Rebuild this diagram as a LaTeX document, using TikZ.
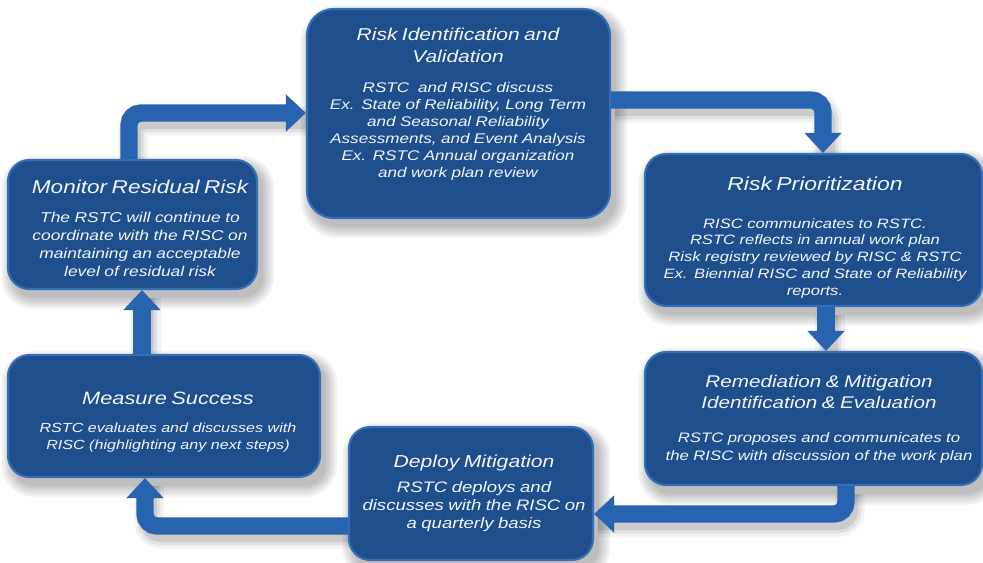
\documentclass[tikz,border=0pt]{standalone}
\usepackage{fontspec}
\setmainfont{Liberation Sans}[FakeStretch=1.22]
\usetikzlibrary{arrows.meta}

\definecolor{boxblue}{RGB}{31,78,141}
\definecolor{boxedge}{RGB}{52,110,182}
\definecolor{flowblue}{RGB}{40,99,176}
\definecolor{textwhite}{RGB}{242,246,251}

\pgfdeclarelayer{paper}
\pgfdeclarelayer{back}
\pgfsetlayers{paper,back,main}

% title size, title skip, body size, body skip, gap, title, body
\newcommand\stagetext[7]{%
  {\fontsize{#1}{#2}\selectfont #6\par}\vspace{#5}%
  {\fontsize{#3}{#4}\selectfont #7\par}}

% a connector with a soft grey shadow underneath
\newcommand\flowpath[1]{%
  \foreach \w/\o in {22/0.05,17/0.07,12/0.09}{%
    \draw[draw=black, line width=\w pt, opacity=\o, rounded corners=9pt,
          transform canvas={xshift=3pt,yshift=-6pt}] #1;}
  \draw[flow] #1;}

% soft drop shadow below a stage: node name, corner radius (pt)
\newcommand\stageshadow[2]{%
  \foreach \g in {0,2,4,6,8}{%
    \pgfmathsetmacro\rr{#2+\g}%
    \fill[black, opacity=0.055, rounded corners=\rr pt]
      ([xshift=4pt-\g pt, yshift=-6pt+\g pt]#1.north west) rectangle
      ([xshift=4pt+\g pt, yshift=-6pt-\g pt]#1.south east);}}

\tikzset{
  stage/.style={rectangle, rounded corners=16pt, fill=boxblue, draw=boxedge,
    line width=1.6pt, inner sep=0pt},
  stagetxt/.style={anchor=north, inner sep=0pt, text width=300pt,
    align=center, font=\itshape, text=textwhite},
  flow/.style={draw=flowblue, line width=13pt, rounded corners=9pt,
    -{Triangle[width=27pt,length=15pt]}}
}

\begin{document}
\begin{tikzpicture}[x=0.75pt,y=-0.75pt]
\begin{pgfonlayer}{paper}
  \fill[white] (0,0) rectangle (983,563);
\end{pgfonlayer}
\useasboundingbox (0,0) rectangle (983,563);

% stages
\node[stage, rounded corners=20pt, minimum width=227.25pt, minimum height=156.75pt] (rid) at (458.5,113.5) {};
\node[stage, minimum width=252.75pt, minimum height=114pt] (rpr) at (813.5,230) {};
\node[stage, minimum width=252.75pt, minimum height=99.75pt] (rem) at (813.5,418.5) {};
\node[stage, minimum width=183pt, minimum height=99.75pt] (dep) at (471,493.5) {};
\node[stage, minimum width=234pt, minimum height=91.5pt] (mea) at (164,416) {};
\node[stage, minimum width=186.75pt, minimum height=96.75pt] (mon) at (132.5,224.5) {};

% stage texts
\node[stagetxt] (rid-t) at (458,27.4) {\stagetext{12.9}{16.5}{10.5}{12.75}{9.75pt}%
  {Risk Identification and\\Validation}%
  {RSTC\ \ and RISC discuss\\Ex. State of Reliability, Long Term\\and Seasonal Reliability\\Assessments, and Event Analysis\\Ex. RSTC Annual organization\\and work plan review}};
\node[stagetxt] (rpr-t) at (815,176.3) {\stagetext{14.1}{16}{10.2}{12.6}{15.9pt}%
  {Risk Prioritization}%
  {RISC communicates to RSTC.\\RSTC reflects in annual work plan\\Risk registry reviewed by RISC \& RSTC\\Ex. Biennial RISC and State of Reliability\\reports.}};
\node[stagetxt] (rem-t) at (819,374.6) {\stagetext{12.7}{15.75}{10.3}{13.5}{12pt}%
  {Remediation \& Mitigation\\Identification \& Evaluation}%
  {RSTC proposes and communicates to\\the RISC with discussion of the work plan}};
\node[stagetxt] (dep-t) at (474,454.4) {\stagetext{13}{16}{11.4}{13.5}{5.25pt}%
  {Deploy Mitigation}%
  {RSTC deploys and\\discusses with the RISC on\\a quarterly basis}};
\node[stagetxt] (mea-t) at (168,392) {\stagetext{13.4}{16}{9.9}{12.75}{8.25pt}%
  {Measure Success}%
  {RSTC evaluates and discusses with\\RISC (highlighting any next steps)}};
\node[stagetxt] (mon-t) at (140,179.5) {\stagetext{13.9}{16}{10.7}{13.7}{8.05pt}%
  {Monitor Residual Risk}%
  {The RSTC will continue to\\coordinate with the RISC on\\maintaining an acceptable\\level of residual risk}};

% bend points of the cycle
\coordinate (a1) at (129,113);
\coordinate (b1) at (823,100);
\coordinate (c1) at (826,0);
\coordinate (d1) at (846,514);
\coordinate (e1) at (145,526);
\coordinate (f1) at (142,0);

\begin{pgfonlayer}{back}
  \stageshadow{rid}{20}
  \stageshadow{rpr}{16}
  \stageshadow{rem}{16}
  \stageshadow{dep}{16}
  \stageshadow{mea}{16}
  \stageshadow{mon}{16}
  \flowpath{(mon.north -| a1) |- (rid.west |- a1)}
  \flowpath{(rid.east |- b1) -| (rpr.north -| b1)}
  \flowpath{(rpr.south -| c1) -- (rem.north -| c1)}
  \flowpath{(rem.south -| d1) |- (dep.east |- d1)}
  \flowpath{(dep.west |- e1) -| (mea.south -| e1)}
  \flowpath{(mea.north -| f1) -- (mon.south -| f1)}
\end{pgfonlayer}
\end{tikzpicture}
\end{document}
